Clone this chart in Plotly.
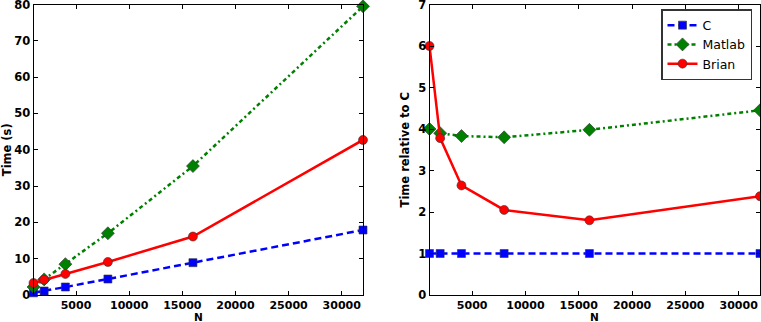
import plotly.graph_objects as go

N = [1000, 2000, 4000, 8000, 16000, 32000]
time_c = [0.6, 1.1, 2.2, 4.4, 8.9, 17.9]
time_matlab = [2.2, 4.3, 8.5, 17.0, 35.5, 79.5]
time_brian = [3.3, 4.2, 5.8, 9.1, 16.1, 42.7]
rel_c = [1, 1, 1, 1, 1, 1]
rel_matlab = [4.0, 3.9, 3.83, 3.8, 3.98, 4.45]
rel_brian = [6.0, 3.78, 2.64, 2.05, 1.8, 2.38]

W, H = 761, 322
FONT = "DejaVu Sans"

series = [
    ("C", "#0000ff", "square", 8, "7px,4px", time_c, rel_c),
    ("Matlab", "#008000", "diamond", 10, "4px,3px,2px,3px", time_matlab, rel_matlab),
    ("Brian", "#ff0000", "circle", 9, "solid", time_brian, rel_brian),
]

fig = go.Figure()
for name, col, sym, msize, dash, left, right in series:
    for xa, ya, vals, show in (("x", "y", left, False), ("x2", "y2", right, True)):
        fig.add_trace(go.Scatter(
            x=N, y=vals, name=name, xaxis=xa, yaxis=ya, showlegend=show,
            mode="lines+markers",
            line=dict(color=col, width=2.5, dash=dash),
            marker=dict(symbol=sym, size=msize, color=col,
                        line=dict(color="#333333", width=0.6)),
            cliponaxis=False,
        ))

TICKFONT = dict(family=FONT, size=11.5, color="black", weight="bold")
XTICKFONT = dict(family=FONT, size=11, color="black", weight="bold")
TITLEFONT = dict(family=FONT, size=11.5, color="black", weight="bold")

def xaxis(dom, anchor):
    return dict(domain=dom, anchor=anchor, range=[1000, 32000], automargin=False,
                tickvals=[5000, 10000, 15000, 20000, 25000, 30000], tickformat="d",
                showline=True, linecolor="black", linewidth=1, mirror="ticks",
                ticks="inside", ticklen=4, tickcolor="black", showgrid=False, zeroline=False,
                tickfont=XTICKFONT, ticklabeloverflow="allow")

def yaxis(dom, anchor, rng, dt, title, standoff):
    return dict(domain=dom, anchor=anchor, range=rng, dtick=dt, automargin=False,
                showline=True, linecolor="black", linewidth=1, mirror="ticks",
                ticks="inside", ticklen=4, tickcolor="black", showgrid=False, zeroline=False,
                tickfont=TICKFONT, ticklabeloverflow="allow",
                title=dict(text=title, standoff=standoff, font=TITLEFONT))

ydom = [(H - 295) / H, (H - 4.5) / H]
xdom1 = [33.5 / W, 363 / W]
xdom2 = [429.5 / W, 760 / W]
fig.update_layout(
    template="none",
    width=W, height=H, margin=dict(l=0, r=0, t=0, b=0),
    paper_bgcolor="white", plot_bgcolor="white",
    xaxis=xaxis(xdom1, "y"),
    yaxis=yaxis(ydom, "x", [0, 80], 10, "Time (s)", 2),
    xaxis2=xaxis(xdom2, "y2"),
    yaxis2=yaxis(ydom, "x2", [0, 7], 1, "Time relative to C", 6),
    legend=dict(x=752 / W, y=(H - 9) / H, xanchor="right", yanchor="top",
                bordercolor="#333333", borderwidth=1.5, bgcolor="white",
                font=dict(family=FONT, size=12.5, color="black"),
                tracegroupgap=0, itemwidth=30),
    showlegend=True,
)
for dom in (xdom1, xdom2):
    fig.add_annotation(text="N", xref="paper", yref="paper",
                       x=(dom[0] + dom[1]) / 2, y=0,
                       xanchor="center", yanchor="bottom", showarrow=False,
                       font=dict(family=FONT, size=10.5, color="black", weight="bold"),
                       borderpad=0, yshift=-2)

fig.write_html("out.html", config={"displayModeBar": False},
               post_script="document.body.style.margin='0';document.body.style.overflow='hidden';")
